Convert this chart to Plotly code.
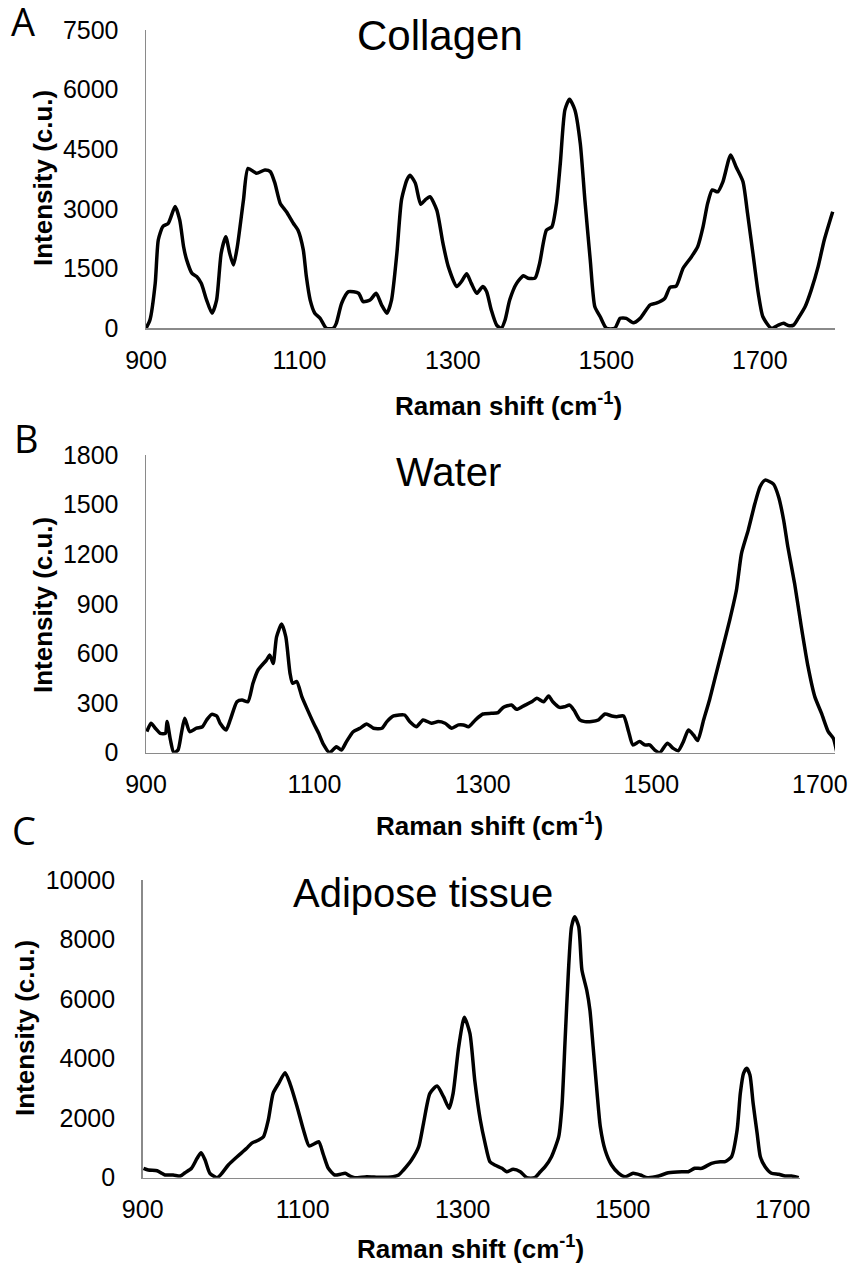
import plotly.graph_objects as go

# ---------------- data ----------------
collagen_x = [900, 905, 912, 916, 922, 929, 938, 944, 949, 953, 960, 966, 972, 979, 986, 992, 998, 1004, 1009, 1014,
              1019, 1027, 1033, 1044, 1055, 1062, 1068, 1075, 1083, 1092, 1098, 1105, 1109, 1114, 1120, 1127, 1135, 1144,
              1148, 1155, 1164, 1177, 1183, 1192, 1200, 1207, 1214, 1220, 1227, 1233, 1240, 1244, 1251, 1258, 1264, 1270,
              1279, 1287, 1294, 1305, 1311, 1318, 1324, 1331, 1339, 1344, 1350, 1357, 1363, 1368, 1374, 1383, 1392, 1398,
              1407, 1413, 1422, 1429, 1435, 1440, 1446, 1452, 1459, 1466, 1472, 1479, 1485, 1492, 1500, 1511, 1518, 1526,
              1535, 1544, 1557, 1565, 1576, 1583, 1591, 1600, 1611, 1619, 1626, 1632, 1638, 1645, 1652, 1662, 1669, 1678,
              1684, 1691, 1698, 1704, 1715, 1724, 1731, 1737, 1744, 1750, 1759, 1767, 1776, 1784, 1795]
collagen_y = [0, 200, 1130, 2220, 2560, 2640, 3060, 2720, 2050, 1720, 1380, 1300, 1130, 710, 380, 710, 1890, 2300, 1890,
              1590, 2050, 3220, 4020, 3900, 3980, 3940, 3650, 3140, 2930, 2640, 2470, 1970, 1300, 710, 380, 250, 0, 0,
              125, 630, 920, 880, 670, 710, 880, 590, 380, 710, 1890, 3230, 3730, 3850, 3650, 3120, 3230, 3310, 2970,
              2140, 1550, 1050, 1170, 1370, 1130, 880, 1050, 920, 460, 80, 0, 210, 710, 1130, 1320, 1260, 1260, 1630,
              2470, 2550, 3140, 4150, 5490, 5760, 5490, 4650, 3230, 1720, 540, 290, 0, 0, 250, 250, 140, 250, 590, 630,
              750, 1030, 1060, 1510, 1800, 2050, 2550, 3140, 3480, 3430, 3690, 4360, 4060, 3690, 2890, 1890, 880, 290,
              0, 80, 125, 70, 80, 250, 540, 960, 1550, 2220, 2930]

water_x = [901, 906, 911, 917, 923, 925, 929, 933, 938, 942, 946, 952, 960, 967, 972, 978, 984, 988, 995, 1000,
           1008, 1014, 1021, 1027, 1033, 1043, 1047, 1051, 1055, 1061, 1066, 1071, 1074, 1079, 1085, 1091, 1099, 1105,
           1110, 1118, 1126, 1132, 1138, 1146, 1154, 1162, 1170, 1180, 1186, 1194, 1207, 1213, 1221, 1229, 1239, 1247,
           1255, 1263, 1271, 1277, 1283, 1291, 1300, 1310, 1318, 1324, 1334, 1340, 1350, 1358, 1364, 1372, 1378, 1383,
           1391, 1397, 1403, 1408, 1415, 1421, 1429, 1437, 1445, 1453, 1459, 1467, 1473, 1478, 1486, 1492, 1498, 1504,
           1510, 1519, 1526, 1532, 1538, 1544, 1550, 1555, 1562, 1569, 1577, 1585, 1593, 1601, 1607, 1615, 1623, 1629,
           1635, 1645, 1651, 1657, 1662, 1670, 1678, 1686, 1694, 1702, 1710, 1716, 1720]
water_y = [127, 178, 148, 117, 117, 188, 77, 0, 16, 117, 208, 127, 148, 157, 198, 232, 222, 178, 137, 198,
           308, 319, 308, 420, 500, 560, 590, 540, 700, 778, 700, 480, 420, 430, 339, 268, 178, 117,
           57, 0, 36, 16, 67, 127, 148, 174, 148, 148, 188, 222, 228, 188, 157, 198, 178, 188,
           178, 148, 168, 168, 157, 198, 234, 238, 242, 274, 288, 262, 288, 308, 329, 308, 343, 308,
           274, 278, 288, 258, 198, 188, 188, 198, 234, 222, 218, 222, 127, 47, 67, 47, 47, 16,
           0, 57, 26, 12, 67, 137, 107, 73, 198, 319, 480, 640, 802, 984, 1205, 1346, 1508, 1608,
           1648, 1624, 1548, 1407, 1245, 1024, 762, 520, 339, 238, 127, 87, 6]

adipose_x = [901, 907, 918, 924, 928, 938, 947, 953, 961, 968, 973, 978, 984, 993, 999, 1007, 1018, 1030, 1036, 1045,
             1051, 1057, 1063, 1070, 1078, 1084, 1093, 1101, 1108, 1114, 1120, 1126, 1132, 1140, 1147, 1153, 1159, 1165,
             1180, 1197, 1213, 1220, 1226, 1236, 1245, 1251, 1259, 1268, 1276, 1283, 1288, 1295, 1302, 1309, 1315, 1322,
             1328, 1334, 1340, 1349, 1355, 1363, 1372, 1380, 1390, 1397, 1403, 1411, 1420, 1424, 1428, 1432, 1436, 1440,
             1445, 1449, 1455, 1459, 1463, 1468, 1472, 1478, 1486, 1495, 1503, 1513, 1522, 1531, 1545, 1557, 1574, 1582,
             1590, 1599, 1611, 1622, 1628, 1636, 1643, 1647, 1651, 1655, 1659, 1663, 1668, 1672, 1678, 1686, 1695, 1703,
             1711, 1720]
adipose_y = [316, 259, 235, 148, 91, 91, 57, 168, 316, 652, 840, 595, 148, 0, 148, 427, 705, 988, 1155, 1266,
             1377, 1938, 2835, 3171, 3527, 3171, 2385, 1602, 1065, 1132, 1209, 762, 316, 91, 114, 148, 57, 0,
             34, 13, 34, 91, 259, 595, 1041, 1827, 2835, 3080, 2721, 2331, 2835, 4400, 5388, 4850, 3282, 1938,
             1155, 537, 427, 316, 202, 282, 202, 0, 0, 202, 370, 705, 1377, 2385, 4625, 6866, 8431, 8767,
             8431, 6977, 6305, 5633, 4400, 2835, 1713, 930, 427, 148, 34, 148, 91, 0, 57, 168, 202, 202,
             316, 316, 484, 537, 537, 705, 1602, 2835, 3507, 3675, 3450, 2499, 1491, 705, 370, 148, 114, 57,
             57, 0]

x_ticks = [900, 1100, 1300, 1500, 1700]
collagen_yticks = [0, 1500, 3000, 4500, 6000, 7500]
water_yticks = [0, 300, 600, 900, 1200, 1500, 1800]
adipose_yticks = [0, 2000, 4000, 6000, 8000, 10000]

titles = ["Collagen", "Water", "Adipose tissue"]
letters = ["A", "B", "C"]
x_title = "<b>Raman shift (cm<sup>-1</sup>)</b>"
y_title = "<b>Intensity (c.u.)</b>"

# ---------------- layout geometry (pixels) ----------------
W, H = 850, 1263
FONT = "Liberation Sans, Arial, sans-serif"


def fx(p):
    return p / W


def fy(p):
    return 1 - p / H


panels = [
    dict(x=collagen_x, y=collagen_y, xr=[900, 1798], yr=[0, 7500], yt=collagen_yticks,
         l=146, r=835, t=30, b=328.3,
         title=(440, 36, 42), xt=(508, 404), yti=(43, 178), let=(23, 21)),
    dict(x=water_x, y=water_y, xr=[900, 1718], yr=[0, 1800], yt=water_yticks,
         l=146, r=835, t=455, b=752.7,
         title=(448, 472, 40), xt=(490, 824), yti=(43, 605), let=(27, 438)),
    dict(x=adipose_x, y=adipose_y, xr=[900, 1721.6], yr=[0, 10000], yt=adipose_yticks,
         l=142.7, r=800, t=880, b=1177.7,
         title=(423, 893, 40), xt=(470, 1247), yti=(25, 1028), let=(24, 830)),
]

fig = go.Figure()
annotations = []
for i, p in enumerate(panels):
    n = "" if i == 0 else str(i + 1)
    fig.add_trace(go.Scatter(
        x=p["x"], y=p["y"], mode="lines",
        line=dict(color="black", width=3.5, shape="spline", smoothing=0.6),
        xaxis="x" + n, yaxis="y" + n, showlegend=False, hoverinfo="skip"))
    axis_common = dict(showgrid=False, zeroline=False, showline=True, linecolor="#8a8a8a",
                       linewidth=1.5, tickfont=dict(family=FONT, size=25, color="black"),
                       ticks="outside", tickcolor="rgba(0,0,0,0)", automargin=False)
    fig.layout["xaxis" + n] = dict(
        domain=[fx(p["l"]), fx(p["r"])], range=p["xr"], anchor="y" + n,
        tickmode="array", tickvals=x_ticks, ticktext=[str(v) for v in x_ticks],
        ticklen=9, **axis_common)
    fig.layout["yaxis" + n] = dict(
        domain=[fy(p["b"]), fy(p["t"])], range=p["yr"], anchor="x" + n,
        tickmode="array", tickvals=p["yt"], ticktext=[str(v) for v in p["yt"]],
        ticklen=21, **axis_common)
    tx, ty, ts = p["title"]
    annotations.append(dict(text=titles[i], x=fx(tx), y=fy(ty), xref="paper", yref="paper",
                            xanchor="center", yanchor="middle", showarrow=False,
                            font=dict(family=FONT, size=ts, color="black")))
    ax_, ay_ = p["xt"]
    annotations.append(dict(text=x_title, x=fx(ax_), y=fy(ay_), xref="paper", yref="paper",
                            xanchor="center", yanchor="middle", showarrow=False,
                            font=dict(family=FONT, size=26, color="black")))
    bx, by = p["yti"]
    annotations.append(dict(text=y_title, x=fx(bx), y=fy(by), xref="paper", yref="paper",
                            xanchor="center", yanchor="middle", showarrow=False, textangle=-90,
                            font=dict(family=FONT, size=26, color="black")))
    lx, ly = p["let"]
    annotations.append(dict(text=letters[i], x=fx(lx), y=fy(ly), xref="paper", yref="paper",
                            xanchor="center", yanchor="middle", showarrow=False,
                            font=dict(family="Open Sans, sans-serif", size=38, color="black")))

fig.update_layout(
    width=W, height=H, autosize=False,
    margin=dict(l=0, r=0, t=0, b=0, pad=0, autoexpand=False),
    paper_bgcolor="white", plot_bgcolor="white",
    annotations=annotations,
)

fig.write_html("out.html",
               config={"displayModeBar": False, "staticPlot": True},
               post_script="document.body.style.margin='0px';document.body.style.overflow='hidden';")
